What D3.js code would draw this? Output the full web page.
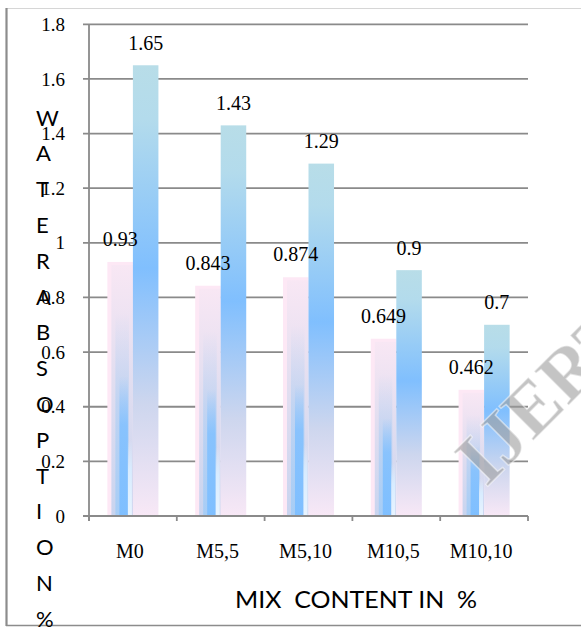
<!DOCTYPE html>
<html>
<head>
<meta charset="utf-8">
<script src="https://cdn.jsdelivr.net/npm/d3@7"></script>
<style>
  html, body { margin: 0; padding: 0; background: #fff; }
  svg { display: block; }
</style>
</head>
<body>
<svg id="chart" width="581" height="627"></svg>
<script>
// ---- data ----
const categories = ["M0", "M5,5", "M5,10", "M10,5", "M10,10"];
const series1 = [0.93, 0.843, 0.874, 0.649, 0.462];
const series2 = [1.65, 1.43, 1.29, 0.9, 0.7];
const valueLabels1 = ["0.93", "0.843", "0.874", "0.649", "0.462"];
const valueLabels2 = ["1.65", "1.43", "1.29", "0.9", "0.7"];
const yTicks = [0, 0.2, 0.4, 0.6, 0.8, 1, 1.2, 1.4, 1.6, 1.8];
const yTickLabels = ["0", "0.2", "0.4", "0.6", "0.8", "1", "1.2", "1.4", "1.6", "1.8"];
const yTitleLetters = ["W", "A", "T", "E", "R", "A", "B", "S", "O", "P", "T", "I", "O", "N", "%"];
const xTitle = "MIX  CONTENT IN  %";
const watermark = "IJERT";

// ---- layout ----
const svg = d3.select("#chart");
const plot = { left: 89, right: 528, top: 24.3, bottom: 516 };

const x = d3.scaleBand().domain(categories).range([plot.left, plot.right]).paddingInner(0).paddingOuter(0);
const xs = d3.scaleBand().domain(["s1", "s2"]).range([0, x.bandwidth()]).paddingInner(0).paddingOuter(0.72);
const y = d3.scaleLinear().domain([0, 1.8]).range([plot.bottom, plot.top]);

const defs = svg.append("defs");
function grad(id, stops) {
  const g = defs.append("linearGradient").attr("id", id)
    .attr("x1", 0).attr("y1", 0).attr("x2", 0).attr("y2", 1);
  stops.forEach(s => g.append("stop").attr("offset", s[0]).attr("stop-color", s[1])
    .attr("stop-opacity", s[2] === undefined ? 1 : s[2]));
}
grad("gBlue", [[0, "#b8dde8"], [0.12, "#b3dbec"], [0.45, "#80bffe"], [0.75, "#cdd6ee"], [1, "#f8e8f6"]]);
grad("gPinkB", [[0, "#f8e7f4"], [0.45, "#e2def0"], [1, "#c8d4ef"]]);
grad("gPinkC", [[0, "#b4d0f3", 0], [0.45, "#b4d0f3", 0.7], [1, "#a6cdf6", 1]]);
grad("gPinkD", [[0, "#80c0ff", 0], [0.35, "#80c0ff", 0.85], [1, "#7fbfff", 1]]);
grad("gPinkE", [[0, "#e2f1ff", 0], [0.4, "#d8ecff", 1], [1, "#e8f4ff", 1]]);

// frame
svg.append("line").attr("x1", 6).attr("x2", 581).attr("y1", 8.5).attr("y2", 8.5)
  .attr("stroke", "#d6d6d6").attr("stroke-width", 1.2);
svg.append("line").attr("x1", 6.5).attr("x2", 6.5).attr("y1", 8).attr("y2", 626)
  .attr("stroke", "#8c8c8c").attr("stroke-width", 2.2);
svg.append("line").attr("x1", 6).attr("x2", 581).attr("y1", 625.5).attr("y2", 625.5)
  .attr("stroke", "#8c8c8c").attr("stroke-width", 1.5);

// gridlines
svg.append("g").selectAll("line").data(yTicks.filter(d => d > 0)).join("line")
  .attr("x1", plot.left - 6).attr("x2", plot.right)
  .attr("y1", d => y(d)).attr("y2", d => y(d))
  .attr("stroke", "#8a8a8a").attr("stroke-width", 1.8);

// bars
const groups = svg.append("g").selectAll("g").data(categories).join("g")
  .attr("transform", d => `translate(${x(d)},0)`);

groups.each(function(c, i) {
  const g = d3.select(this);
  const v1 = series1[i], v2 = series2[i];
  const bw = xs.bandwidth();
  // series 1 (pink with inner blue core)
  const x0 = xs("s1"), t1 = y(v1), h1 = y(0) - y(v1);
  g.append("rect").attr("x", x0).attr("y", t1).attr("width", bw).attr("height", h1).attr("fill", "#fde8f5");
  g.append("rect").attr("x", x0 + 4).attr("y", t1 + 3).attr("width", bw - 4).attr("height", h1 - 3).attr("fill", "url(#gPinkB)");
  g.append("rect").attr("x", x0 + 8).attr("y", t1 + h1 * 0.2).attr("width", bw - 12).attr("height", h1 * 0.8).attr("fill", "url(#gPinkC)");
  g.append("rect").attr("x", x0 + 12).attr("y", t1 + h1 * 0.45).attr("width", bw - 17).attr("height", h1 * 0.55).attr("fill", "url(#gPinkD)");
  g.append("rect").attr("x", x0 + bw - 5).attr("y", t1 + h1 * 0.7).attr("width", 4).attr("height", h1 * 0.3).attr("fill", "url(#gPinkE)");
  // series 2 (blue gradient)
  g.append("rect").attr("x", xs("s2")).attr("y", y(v2)).attr("width", bw).attr("height", y(0) - y(v2)).attr("fill", "url(#gBlue)");
});

// axes lines
svg.append("line").attr("x1", plot.left).attr("x2", plot.left).attr("y1", plot.top).attr("y2", plot.bottom + 5)
  .attr("stroke", "#8a8a8a").attr("stroke-width", 1.8);
svg.append("line").attr("x1", plot.left - 6).attr("x2", plot.right).attr("y1", plot.bottom).attr("y2", plot.bottom)
  .attr("stroke", "#8a8a8a").attr("stroke-width", 1.8);
const boundaries = categories.map(c => x(c)).concat([x(categories[categories.length - 1]) + x.bandwidth()]);
svg.append("g").selectAll("line").data(boundaries).join("line")
  .attr("x1", d => d).attr("x2", d => d).attr("y1", plot.bottom).attr("y2", plot.bottom + 5)
  .attr("stroke", "#8a8a8a").attr("stroke-width", 1.8);

// y tick labels
svg.append("g").selectAll("text").data(yTicks).join("text")
  .attr("x", 65).attr("y", d => y(d)).attr("dy", "0.35em")
  .attr("text-anchor", "end")
  .attr("font-family", "'Liberation Serif', 'Times New Roman', serif").attr("font-size", 19)
  .attr("fill", "#000")
  .text((d, i) => yTickLabels[i]);

// category labels
svg.append("g").selectAll("text").data(categories).join("text")
  .attr("x", d => x(d) + x.bandwidth() / 2 - 3).attr("y", 558)
  .attr("text-anchor", "middle")
  .attr("font-family", "'Liberation Serif', 'Times New Roman', serif").attr("font-size", 20)
  .attr("fill", "#000")
  .text(d => d);

// value labels
const vl = svg.append("g")
  .attr("font-family", "'Liberation Serif', 'Times New Roman', serif").attr("font-size", 20)
  .attr("fill", "#000").attr("text-anchor", "middle");
vl.selectAll("text.s1").data(categories).join("text").attr("class", "s1")
  .attr("x", d => x(d) + xs("s1") + xs.bandwidth() / 2)
  .attr("y", (d, i) => y(series1[i]) - 16)
  .text((d, i) => valueLabels1[i]);
vl.selectAll("text.s2").data(categories).join("text").attr("class", "s2")
  .attr("x", d => x(d) + xs("s2") + xs.bandwidth() / 2)
  .attr("y", (d, i) => y(series2[i]) - 15.5)
  .text((d, i) => valueLabels2[i]);

// y title (stacked letters)
svg.append("g").selectAll("text").data(yTitleLetters).join("text")
  .attr("x", 36).attr("y", (d, i) => 125.5 + i * 35.8)
  .attr("font-family", "Lato, 'Open Sans', sans-serif").attr("font-size", 22)
  .attr("fill", "#000")
  .text(d => d);

// x title
svg.append("text")
  .attr("x", 235).attr("y", 608.3)
  .attr("xml:space", "preserve").style("white-space", "pre")
  .attr("textLength", 242).attr("lengthAdjust", "spacingAndGlyphs")
  .attr("font-family", "Lato, 'Open Sans', sans-serif").attr("font-size", 23)
  .attr("fill", "#000")
  .text(xTitle);

// watermark
svg.append("text")
  .attr("transform", "translate(486,488) rotate(-45)")
  .attr("font-family", "'Liberation Serif', serif").attr("font-size", 74).attr("font-weight", "bold")
  .attr("fill", "#9c9c9c").attr("fill-opacity", 0.6)
  .attr("stroke", "#ffffff").attr("stroke-width", 1.5).attr("stroke-opacity", 0.5)
  .text(watermark);
</script>
</body>
</html>
